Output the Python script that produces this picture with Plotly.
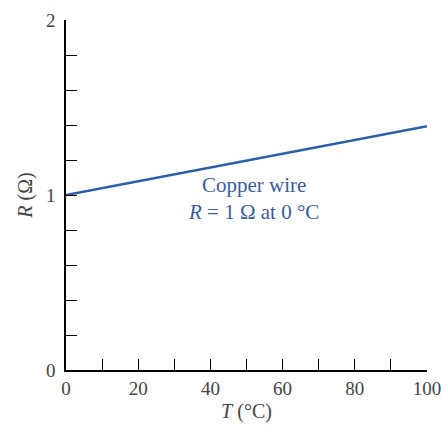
import plotly.graph_objects as go

temps = [0, 20, 40, 60, 80, 100]
resistance = [1.0, 1.079, 1.157, 1.236, 1.314, 1.393]
x_tick_vals = [0, 20, 40, 60, 80, 100]
x_tick_text = ["0", "20", "40", "60", "80", "100"]
y_tick_vals = [0, 1, 2]
y_tick_text = ["0", "1", "2"]

FONT = "Liberation Serif"
BLUE = "#2b5ea7"

fig = go.Figure()
fig.add_trace(go.Scatter(x=temps, y=resistance, mode="lines",
                         line=dict(color=BLUE, width=2.6), hoverinfo="skip"))

fig.add_annotation(x=52, y=0.98, xref="x", yref="y",
                   text="Copper wire<br><i>R</i> = 1 Ω at 0 °C",
                   showarrow=False, align="center",
                   font=dict(family=FONT, size=21, color="#3b5d99"))

axis_common = dict(showgrid=False, zeroline=False, showline=True, automargin=False,
                   linecolor="black", linewidth=1.5, ticklabeloverflow="allow",
                   ticks="inside", ticklen=11, tickwidth=1.3, tickcolor="black",
                   tickfont=dict(family=FONT, size=19, color="#444"))

fig.update_xaxes(range=[0, 100], tickvals=x_tick_vals, ticktext=x_tick_text,
                 minor=dict(dtick=10, ticks="inside", ticklen=11, tickwidth=1.3, tickcolor="black"),
                 title=dict(text="<i>T</i> (°C)", font=dict(family=FONT, size=20, color="#444"), standoff=6),
                 **axis_common)
fig.update_yaxes(range=[0, 2], tickvals=y_tick_vals, ticktext=y_tick_text,
                 minor=dict(dtick=0.2, ticks="inside", ticklen=11, tickwidth=1.3, tickcolor="black"),
                 title=dict(text="<i>R</i> (Ω)", font=dict(family=FONT, size=20, color="#444"), standoff=8),
                 ticklabelstandoff=5,
                 **axis_common)

fig.update_layout(width=441, height=432, margin=dict(l=66, r=14, t=20, b=62),
                  plot_bgcolor="white", paper_bgcolor="white", showlegend=False)

fig.write_html("out.html", config={"displayModeBar": False},
               post_script="document.body.style.margin='0';document.body.style.overflow='hidden';")
